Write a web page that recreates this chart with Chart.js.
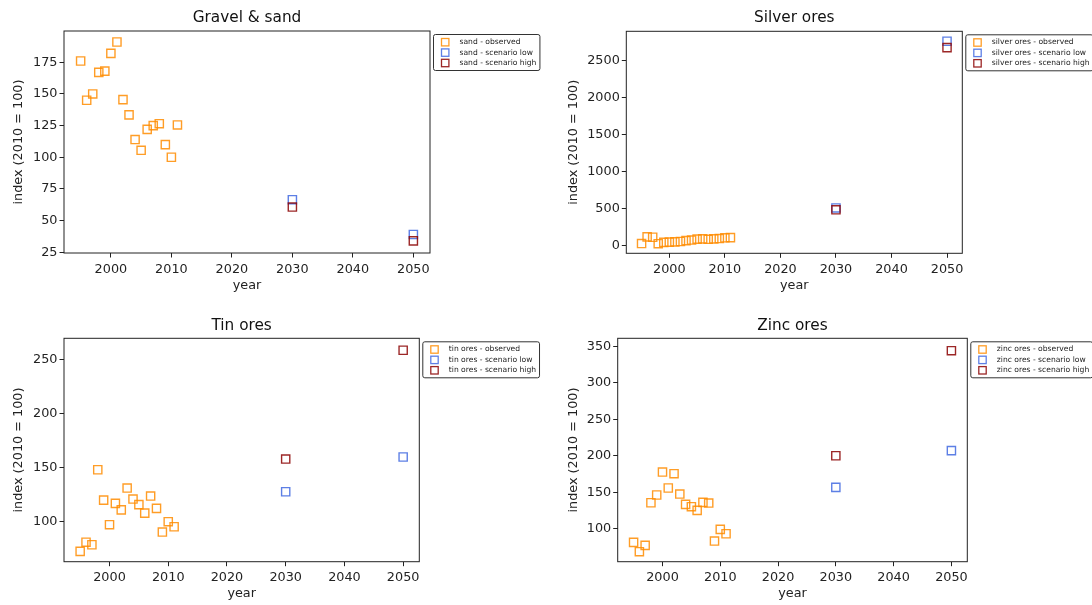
<!DOCTYPE html>
<html>
<head>
<meta charset="utf-8">
<script src="https://cdn.jsdelivr.net/npm/chart.js@4.4.1/dist/chart.umd.min.js"></script>
<style>
  body { margin: 0; background: #fff; width: 1092px; height: 605px; position: relative; overflow: hidden; }
  canvas { position: absolute; }
</style>
</head>
<body>
<canvas id="sand" width="546" height="302" style="left:0;top:0"></canvas>
<canvas id="silver" width="546" height="302" style="left:546px;top:0"></canvas>
<canvas id="tin" width="546" height="303" style="left:0;top:302px"></canvas>
<canvas id="zinc" width="546" height="303" style="left:546px;top:302px"></canvas>
<script>
// data
const obsYears = [1995, 1996, 1997, 1998, 1999, 2000, 2001, 2002, 2003, 2004, 2005, 2006, 2007, 2008, 2009, 2010, 2011];
const scenYears = [2030, 2050];
const yearTicks = [2000, 2010, 2020, 2030, 2040, 2050];

const sandObs = [176, 145, 150, 167, 168, 182, 191, 145.5, 133.5, 114, 105.5, 122, 125, 126.5, 110, 100, 125.5];
const sandLow = [66.5, 39];
const sandHigh = [60.7, 34];
const sandTicks = [25, 50, 75, 100, 125, 150, 175];

const silverObs = [22, 113, 108, 20, 38, 42, 45, 50, 62, 70, 82, 86, 80, 86, 90, 100, 103];
const silverLow = [505, 2767];
const silverHigh = [480, 2680];
const silverTicks = [0, 500, 1000, 1500, 2000, 2500];

const tinObs = [72.5, 81, 78.6, 148.2, 120, 97.2, 117, 111, 131.2, 121, 115.8, 108, 123.8, 112.4, 90.4, 100, 95.3];
const tinLow = [127.8, 160];
const tinHigh = [158.1, 259];
const tinTicks = [100, 150, 200, 250];

const zincObs = [81.3, 68.5, 77.2, 135.6, 146.2, 177.7, 155.8, 175.4, 147.5, 133.4, 130.2, 125.1, 136.1, 135.2, 83.1, 99.1, 93.1];
const zincLow = [156.7, 207];
const zincHigh = [200, 344];
const zincTicks = [100, 150, 200, 250, 300, 350];

Chart.defaults.font.family = "'DejaVu Sans', sans-serif";
Chart.defaults.color = '#222';

const ORANGE = 'rgba(255,140,0,0.85)';
const BLUE = 'rgba(65,105,225,0.85)';
const RED = 'rgba(139,0,0,0.85)';
const FS = 12.8;

function pts(xs, ys) {
    return xs.map((x, i) => ({ x: x, y: ys[i] }));
}

// axes frame + matplotlib-style legend outside the axes
const frameLegend = {
    id: 'frameLegend',
    afterDraw(chart) {
        const { ctx, chartArea: a } = chart;
        ctx.save();
        ctx.strokeStyle = '#222';
        ctx.lineWidth = 1;
        ctx.strokeRect(a.left, a.top, a.right - a.left, a.bottom - a.top);

        const sets = chart.data.datasets;
        ctx.font = "7.6px 'DejaVu Sans'";
        const tw = Math.max(...sets.map(d => ctx.measureText(d.label).width));
        const x0 = a.right + 3.5, y0 = a.top + 3.5;
        const w = 26 + tw + 3.5, h = 36;
        ctx.beginPath();
        ctx.roundRect(x0, y0, w, h, 2);
        ctx.fillStyle = '#fff';
        ctx.fill();
        ctx.strokeStyle = '#333';
        ctx.stroke();
        sets.forEach((d, i) => {
            const cy = y0 + 7.7 + i * 10.4;
            ctx.strokeStyle = d.borderColor;
            ctx.lineWidth = 1.3;
            ctx.strokeRect(x0 + 8, cy - 3.7, 7.4, 7.4);
            ctx.fillStyle = '#222';
            ctx.textBaseline = 'middle';
            ctx.fillText(d.label, x0 + 26, cy);
        });
        ctx.restore();
    }
};

function makePanel(id, title, name, obs, low, high, yTicks, yMin, yMax, box) {
    const tFS = 15.3;
    const tLH = tFS * 1.2;
    const half = FS * 1.2 / 2;
    const tTop = box.titleY - tLH / 2;
    const ds = (label, data, color, order) => ({
        label: label,
        data: data,
        borderColor: color,
        backgroundColor: 'rgba(0,0,0,0)',
        pointStyle: 'rect',
        pointRadius: 5.8,
        pointHoverRadius: 5.8,
        pointBorderWidth: 1.4,
        showLine: false,
        order: order
    });
    new Chart(document.getElementById(id), {
        type: 'scatter',
        data: {
            datasets: [
                ds(name + ' - observed', pts(obsYears, obs), ORANGE, 3),
                ds(name + ' - scenario low', pts(scenYears, low), BLUE, 2),
                ds(name + ' - scenario high', pts(scenYears, high), RED, 1)
            ]
        },
        options: {
            responsive: false,
            animation: false,
            devicePixelRatio: 1,
            layout: { padding: { left: 0, top: 0, right: box.w - box.R, bottom: 0 } },
            plugins: {
                legend: { display: false },
                tooltip: { enabled: false },
                title: {
                    display: true,
                    text: title,
                    fullSize: false,
                    color: '#111',
                    font: { size: tFS, weight: 'normal' },
                    padding: { top: tTop, bottom: box.T - tTop - tLH }
                }
            },
            scales: {
                x: {
                    type: 'linear',
                    min: 1992.25,
                    max: 2052.75,
                    afterBuildTicks: s => { s.ticks = yearTicks.map(v => ({ value: v })); },
                    afterFit: s => { s.height = box.h - box.B; },
                    border: { display: false },
                    grid: { drawOnChartArea: false, drawTicks: true, tickLength: 4.5, color: '#222' },
                    ticks: { padding: 4, font: { size: FS }, color: '#222', callback: v => String(v) },
                    title: {
                        display: true, text: 'year', color: '#222', font: { size: FS },
                        padding: { top: 0, bottom: box.h - box.xLabY - half }
                    }
                },
                y: {
                    type: 'linear',
                    min: yMin,
                    max: yMax,
                    afterBuildTicks: s => { s.ticks = yTicks.map(v => ({ value: v })); },
                    afterFit: s => { s.width = box.L; },
                    border: { display: false },
                    grid: { drawOnChartArea: false, drawTicks: true, tickLength: 4.5, color: '#222' },
                    ticks: { padding: 2, font: { size: FS }, color: '#222', callback: v => String(v) },
                    title: {
                        display: true, text: 'index (2010 = 100)', color: '#222', font: { size: FS },
                        padding: { top: box.yLabX - half, bottom: 0 }
                    }
                }
            }
        },
        plugins: [frameLegend]
    });
}

makePanel('sand', 'Gravel & sand', 'sand', sandObs, sandLow, sandHigh, sandTicks, 24.4, 199.7,
    { w: 546, h: 302, L: 64, T: 31, R: 430, B: 253, titleY: 18.3, yLabX: 18.5, xLabY: 286 });
makePanel('silver', 'Silver ores', 'silver ores', silverObs, silverLow, silverHigh, silverTicks, -110, 2902,
    { w: 546, h: 302, L: 80.3, T: 31.3, R: 416.3, B: 253.3, titleY: 18.3, yLabX: 27.3, xLabY: 286 });
makePanel('tin', 'Tin ores', 'tin ores', tinObs, tinLow, tinHigh, tinTicks, 62.9, 270.1,
    { w: 546, h: 303, L: 64, T: 36.3, R: 419.3, B: 259.7, titleY: 24, yLabX: 18.3, xLabY: 291.3 });
makePanel('zinc', 'Zinc ores', 'zinc ores', zincObs, zincLow, zincHigh, zincTicks, 54.8, 361,
    { w: 546, h: 303, L: 71.7, T: 36.3, R: 421.3, B: 259.7, titleY: 24, yLabX: 27.3, xLabY: 291.3 });
</script>
</body>
</html>
